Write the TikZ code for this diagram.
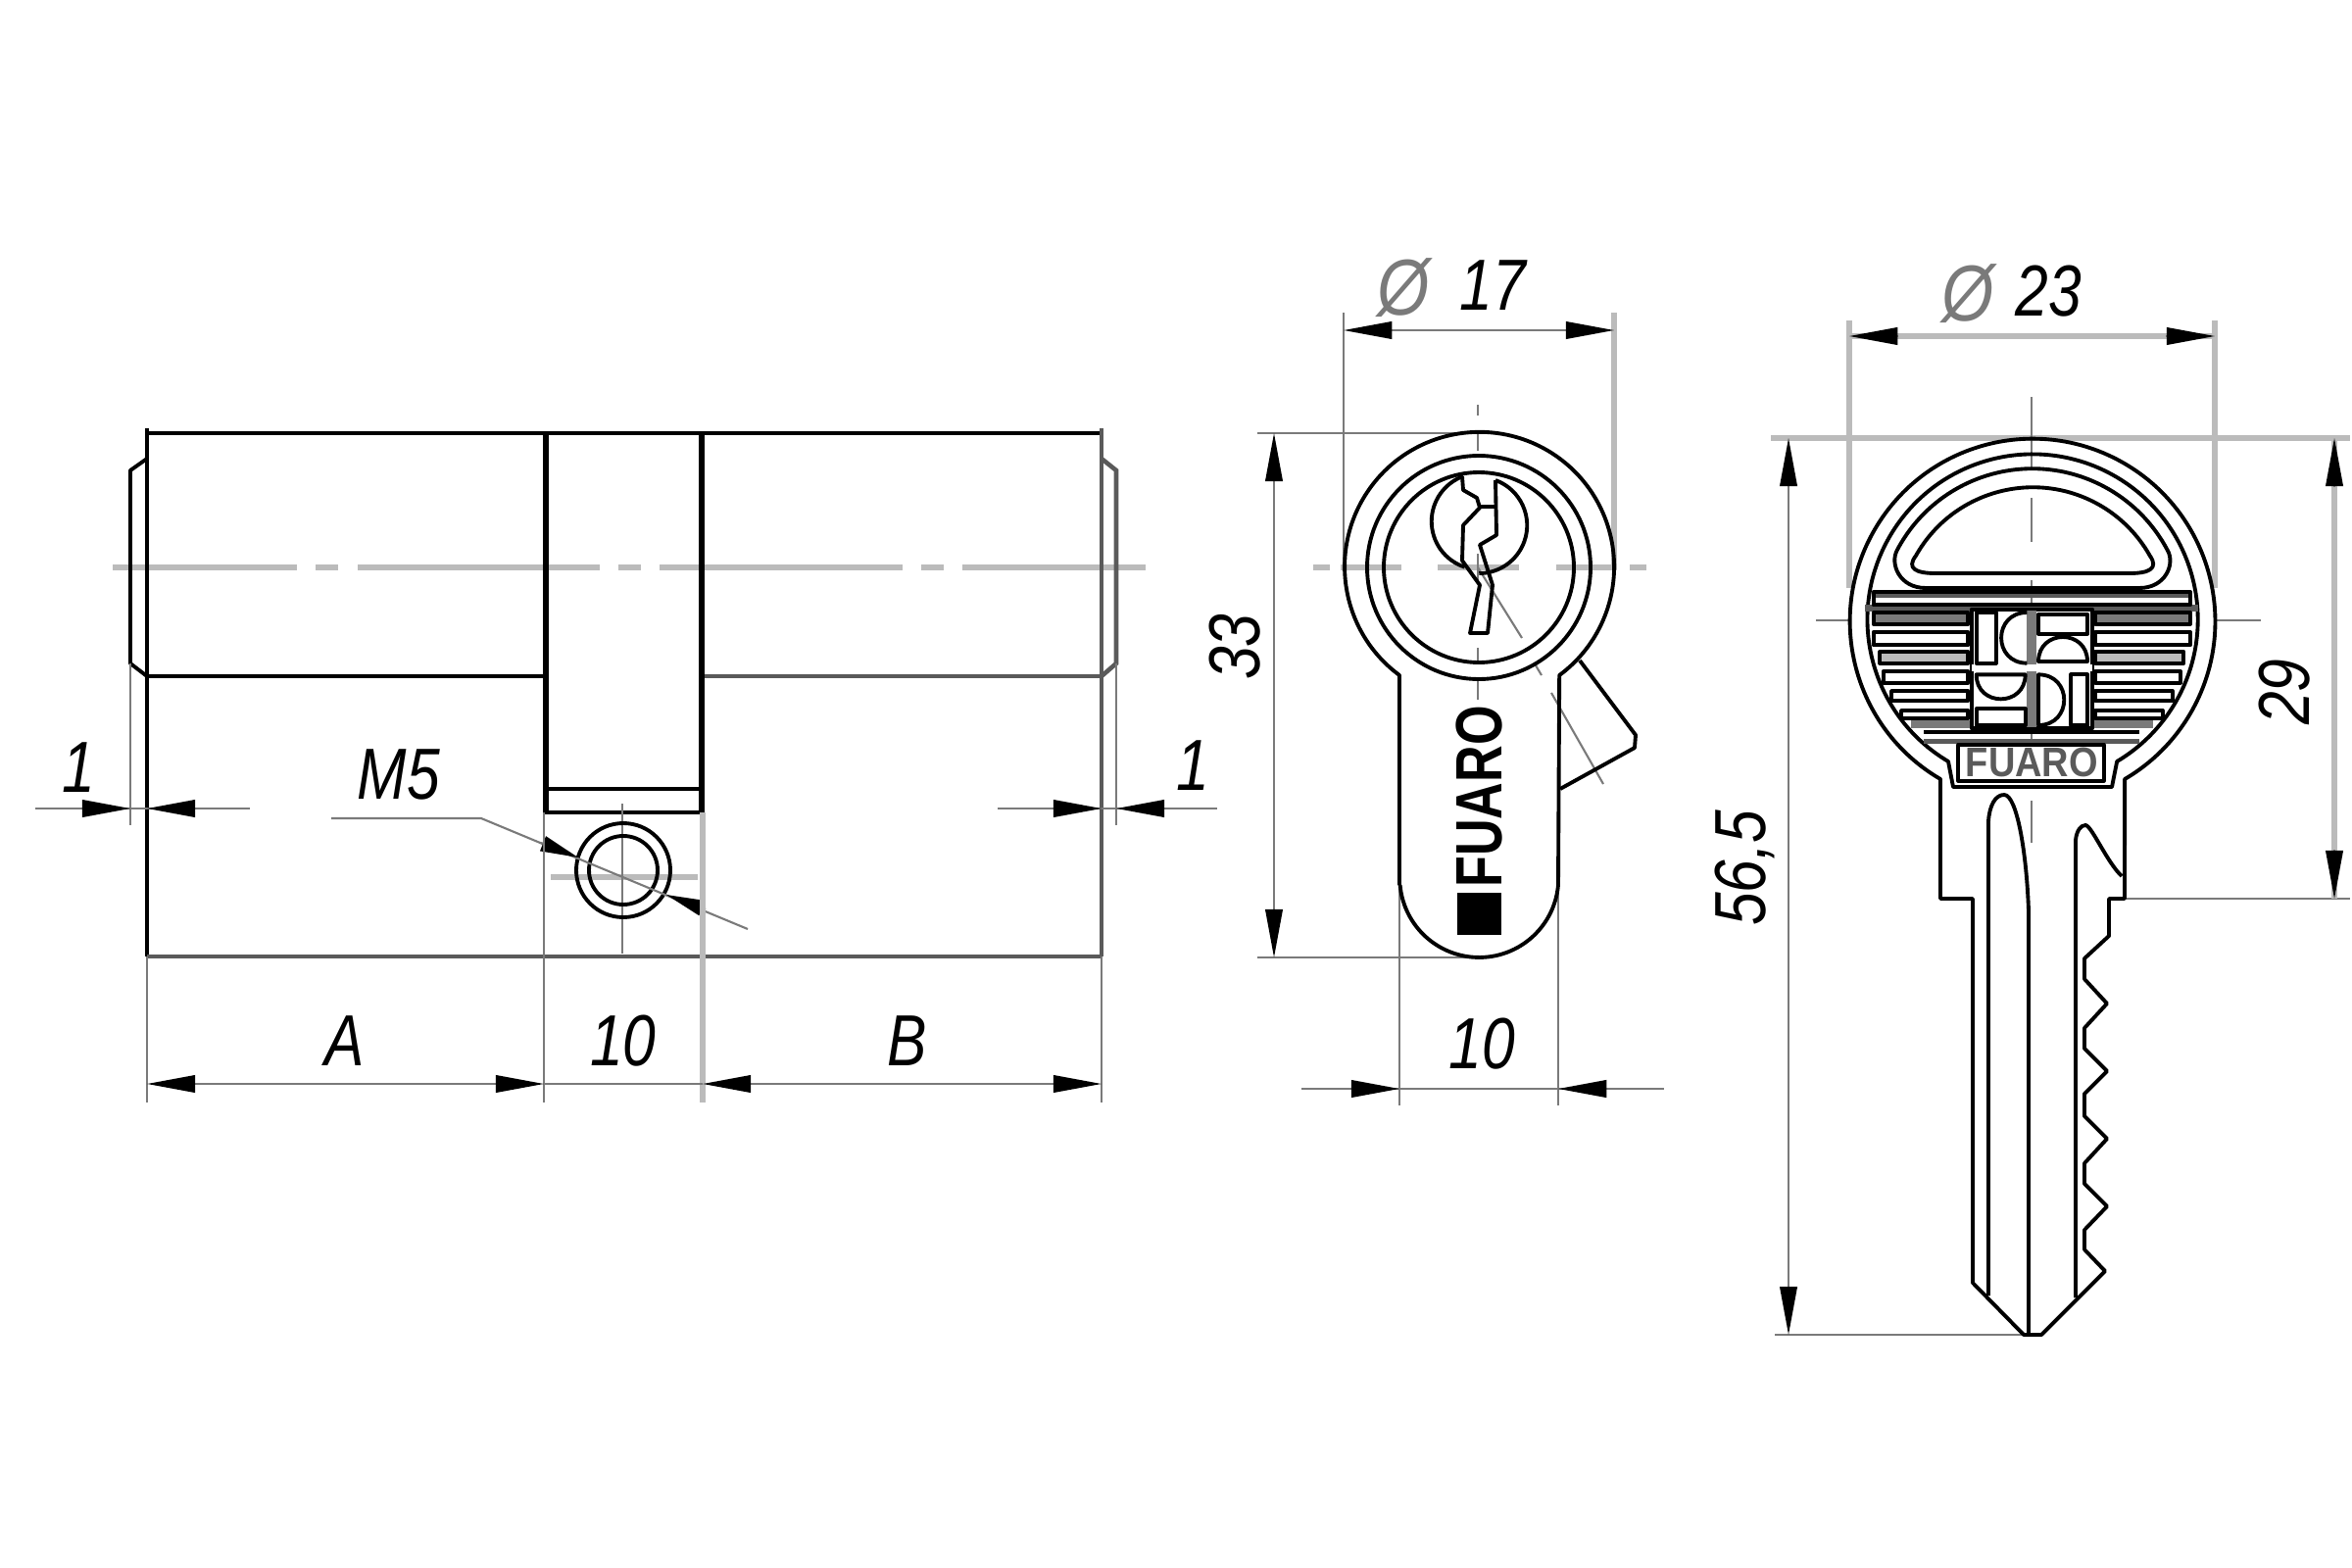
\documentclass[tikz,border=0pt]{standalone}
\usepackage{fontspec}
\setmainfont{Liberation Sans}
\usetikzlibrary{arrows.meta}
\definecolor{linegray}{HTML}{7A7A7A}
\definecolor{widegray}{HTML}{BBBBBB}
\definecolor{bargray}{HTML}{5A5A5A}
\tikzstyle{outline} = [black,line width=1.1pt,line join=round]
\tikzstyle{heavyline} = [black,line width=1.8pt]
\tikzstyle{darkline} = [bargray,line width=1.3pt]
\tikzstyle{thinline} = [linegray,line width=0.6pt]
\tikzstyle{wideline} = [widegray,line width=1.7pt]
\tikzstyle{dimarrow} = [<->,>={Triangle[length=14pt,width=5pt,color=black,fill=black]}]
\tikzstyle{onearrow} = [->,>={Triangle[length=14pt,width=5pt,color=black,fill=black]}]
\tikzstyle{leadarrow} = [->,>={Triangle[length=11pt,width=4.5pt,color=black,fill=black]}]
\tikzstyle{dimtext} = [xscale=0.82,font=\fontsize{21}{21}\selectfont\itshape,inner sep=0pt]
\tikzstyle{phitext} = [xscale=0.85,text=linegray,inner sep=0pt,font=\fontsize{23}{23}\selectfont\itshape]
\tikzstyle{brandtext} = [inner sep=0pt,font=\fontsize{19}{19}\selectfont\bfseries]

\begin{document}
\begin{tikzpicture}[x=0.01cm,y=-0.01cm]
        \useasboundingbox (0,0) rectangle (2400,1600);

        %center line of cylinder
        \foreach \xa/\xb in {115/303,322/345,365/612,631/654,673/921,940/963,982/1169}
            \draw [wideline] (\xa,579) -- (\xb,579);

        %cylinder body
        \draw [outline] (150,437) -- (150,976);
        \draw [outline] (150,442) -- (1124,442);
        \draw [outline] (150,690) -- (557,690);
        \draw [darkline] (717,690) -- (1124,690);
        \draw [darkline] (150,976) -- (1124,976);
        \draw [darkline] (1124,437) -- (1124,976);
        \draw [outline] (150,468) -- (133,480) -- (133,677) -- (150,690);
        \draw [darkline] (1124,468) -- (1139,480) -- (1139,677) -- (1124,690);

        %center part with screw hole
        \draw [heavyline] (557,442) -- (557,829);
        \draw [heavyline] (716,442) -- (716,829);
        \draw [outline] (557,805) -- (714,805);
        \draw [outline] (555,829) -- (718,829);
        \draw [wideline] (562,895) -- (712,895);
        \draw [thinline] (635,820) -- (635,973);
        \draw [outline] (636,888) circle [radius=48];
        \draw [outline] (636,888) circle [radius=35];

        %M5
        \node [dimtext] (m5) at (407,790) {M5};
        \draw [thinline] (338,835) -- (491,835) -- (763,948);
        \draw [thinline,leadarrow] (552,860) -- (590,875);
        \draw [thinline,leadarrow] (720,928) -- (680,913);

        %extension lines of cylinder
        \draw [thinline] (150,976) -- (150,1125);
        \draw [thinline] (555,829) -- (555,1125);
        \draw [wideline] (717,829) -- (717,1125);
        \draw [thinline] (1124,976) -- (1124,1125);
        \draw [thinline] (133,677) -- (133,842);
        \draw [thinline] (1139,677) -- (1139,842);

        %dimensions of cylinder
        \draw [thinline] (36,825) -- (255,825);
        \draw [thinline] (1018,825) -- (1242,825);
        \draw [thinline,onearrow] (85,825) -- (133,825);
        \draw [thinline,onearrow] (200,825) -- (150,825);
        \draw [thinline,onearrow] (1073,825) -- (1124,825);
        \draw [thinline,onearrow] (1187,825) -- (1139,825);
        \node [dimtext] (onea) at (80,783) {1};
        \node [dimtext] (oneb) at (1217,781) {1};
        \draw [thinline,dimarrow] (150,1106) -- (555,1106);
        \draw [thinline] (555,1106) -- (717,1106);
        \draw [thinline,dimarrow] (717,1106) -- (1124,1106);
        \node [dimtext] (a) at (352,1062) {A};
        \node [dimtext] (b) at (926,1062) {B};
        \node [dimtext] (c) at (636,1062) {10};

        %front view extension lines
        \draw [thinline] (1371,319) -- (1371,579);
        \draw [wideline] (1647,319) -- (1647,579);
        \draw [thinline] (1283,442) -- (1508,442);
        \draw [thinline] (1283,977) -- (1509,977);
        \draw [thinline] (1428,900) -- (1428,1128);
        \draw [thinline] (1590,900) -- (1590,1128);

        %front view center lines
        \foreach \xa/\xb in {1340/1357,1368/1430,1467/1550,1588/1650,1663/1680}
            \draw [wideline] (\xa,579) -- (\xb,579);
        \foreach \ya/\yb in {413/424,442/460,565/592,661/676,694/714}
            \draw [thinline] (1508,\ya) -- (1508,\yb);
        \draw [thinline] (1508,579) -- (1553,651);
        \draw [thinline] (1567,679) -- (1573,689);
        \draw [thinline] (1583,707) -- (1636,800);

        %front view
        \draw [outline] (1428,903) -- (1428,689) arc [start angle=126.4,end angle=413.6,radius=137.5] -- (1590,903) arc [start angle=5,end angle=175,radius=81];
        \draw [outline] (1509,579) circle [radius=114];
        \draw [outline] (1509,579) circle [radius=97];
        \draw [outline] (1612,674) -- (1669,750) -- (1668,763) -- (1592,805);

        %keyway
        \draw [outline] (1493,486) arc [start angle=250,end angle=180,radius=49] arc [start angle=180,end angle=108,radius=49];
        \draw [outline] (1526,490) arc [start angle=-70,end angle=90,radius=49];
        \draw [outline] (1492,486) -- (1493,500) -- (1507,508) -- (1510,518) -- (1493,536) -- (1492,572) -- (1510,597) -- (1500,646) -- (1518,646) -- (1523,597) -- (1510,556) -- (1527,546) -- (1526,490);
        \draw [outline] (1510,517) -- (1526,517);

        %brand on front view
        \fill [black] (1487,911) rectangle (1532,954);
        \node [rotate=90,xscale=0.78,brandtext] (brandfront) at (1509,813) {FUARO};

        %front view dimensions
        \draw [thinline,dimarrow] (1371,337) -- (1647,337);
        \draw [thinline,dimarrow] (1300,442) -- (1300,977);
        \draw [thinline] (1328,1111) -- (1698,1111);
        \draw [thinline,onearrow] (1378,1111) -- (1428,1111);
        \draw [thinline,onearrow] (1640,1111) -- (1590,1111);
        \node [phitext] (phia) at (1432,294) {Ø};
        \node [dimtext] (da) at (1523,291) {17};
        \node [rotate=90,dimtext] (h) at (1260,660) {33};
        \node [dimtext] (w) at (1512,1065) {10};

        %key extension lines
        \draw [wideline] (1887,327) -- (1887,600);
        \draw [wideline] (2260,327) -- (2260,600);
        \draw [wideline] (1807,447) -- (2398,447);
        \draw [thinline] (1811,1362) -- (2065,1362);
        \draw [thinline] (2168,917) -- (2398,917);

        %key center lines
        \foreach \ya/\yb in {405/448,448/480,508/553,592/757,817/860}
            \draw [thinline] (2073,\ya) -- (2073,\yb);
        \draw [thinline] (1853,633) -- (1888,633);
        \draw [thinline] (2260,633) -- (2307,633);

        %key outline
        \draw [outline] (2013,917) -- (1980,917) -- (1980,795) arc [start angle=120.3,end angle=419.7,radius=186.4] -- (2168,917) -- (2152,917) -- (2152,955) -- (2127,978) -- (2127,999) -- (2150,1024) -- (2127,1049) -- (2127,1070) -- (2150,1093) -- (2127,1116) -- (2127,1139) -- (2150,1162) -- (2127,1187) -- (2127,1208) -- (2150,1231) -- (2127,1255) -- (2127,1275) -- (2148,1297) -- (2083,1362) -- (2065,1362) -- (2013,1309) -- cycle;
        \draw [outline] (1993,803) -- (1988,777) arc [start angle=120.7,end angle=419.3,radius=168.6] -- (2155,803) -- cycle;
        \draw [outline] (1965,600) .. controls (1938,600) and (1928,575) .. (1936,561) arc [start angle=208,end angle=332,radius=156] .. controls (2220,575) and (2210,600) .. (2183,600) -- cycle;
        \draw [outline] (1975,585) .. controls (1955,585) and (1945,580) .. (1955,567) arc [start angle=209.4,end angle=330.6,radius=137] .. controls (2203,580) and (2193,585) .. (2173,585) -- cycle;

        %key grooves
        \draw [outline] (2029,1322) -- (2029,838) .. controls (2030,822) and (2036,811) .. (2045,811) .. controls (2058,811) and (2068,870) .. (2070,930) -- (2070,1362);
        \draw [outline] (2118,1324) -- (2118,857) .. controls (2119,848) and (2123,842) .. (2128,842) .. controls (2134,842) and (2150,880) .. (2165,894);

        %key logo, coordinates three times finer
        \begin{scope}[shift={(1860,380)},xscale=1/3,yscale=1/3]
            \fill [bargray] (155,672) rectangle (1125,690);
            \fill [bargray] (130,712) rectangle (1150,732);
            \fill [linegray] (270,1065) rectangle (1010,1090);
            \draw [outline] (155,672) rectangle (1125,712);
            \foreach \ya/\yb/\xa/\col in {735/770/155/linegray,795/835/155/white,855/890/175/widegray,915/950/185/white,975/1005/210/white,1035/1060/240/white} {
                \pgfmathsetmacro{\xm}{1280-\xa}
                \draw [outline,fill=\col] (\xa,\ya) rectangle (445,\yb);
                \draw [outline,fill=\col] (\xm,\ya) rectangle (835,\yb);
            }
            \draw [outline,fill=white] (455,725) rectangle (825,1090);
            \fill [linegray] (625,730) rectangle (655,1085);
            \fill [white] (455,895) rectangle (825,915);
            \draw [outline] (470,735) rectangle (530,890);
            \draw [outline] (625,735) .. controls (520,735) and (520,890) .. (625,890);
            \draw [outline] (660,740) rectangle (810,800);
            \draw [outline,fill=white] (660,885) .. controls (660,785) and (810,785) .. (810,885) -- cycle;
            \draw [outline] (470,925) .. controls (470,1025) and (620,1025) .. (620,925) -- cycle;
            \draw [outline] (470,1030) rectangle (620,1080);
            \draw [outline] (660,925) .. controls (765,925) and (765,1080) .. (660,1080) -- cycle;
            \draw [outline] (760,925) rectangle (810,1080);
            \draw [outline] (310,1100) -- (970,1100);
            \draw [darkline] (310,1130) -- (970,1130);
            \draw [outline] (415,1140) rectangle (860,1250);
            \node [xscale=0.9,inner sep=0pt,font=\fontsize{12}{12}\selectfont\bfseries,text=bargray] (brandkey) at (640,1195) {FUARO};
        \end{scope}

        %key dimensions
        \draw [wideline] (1887,343) -- (2260,343);
        \draw [thinline,onearrow] (1937,343) -- (1887,343);
        \draw [thinline,onearrow] (2210,343) -- (2260,343);
        \draw [thinline,dimarrow] (1825,447) -- (1825,1362);
        \draw [wideline] (2382,447) -- (2382,917);
        \draw [thinline,onearrow] (2382,497) -- (2382,447);
        \draw [thinline,onearrow] (2382,867) -- (2382,917);
        \node [phitext] (phib) at (2008,300) {Ø};
        \node [dimtext] (db) at (2090,297) {23};
        \node [rotate=90,dimtext] (k) at (2331,706) {29};
        \node [rotate=90,dimtext] (l) at (1780,886) {56,5};

\end{tikzpicture}
\end{document}
